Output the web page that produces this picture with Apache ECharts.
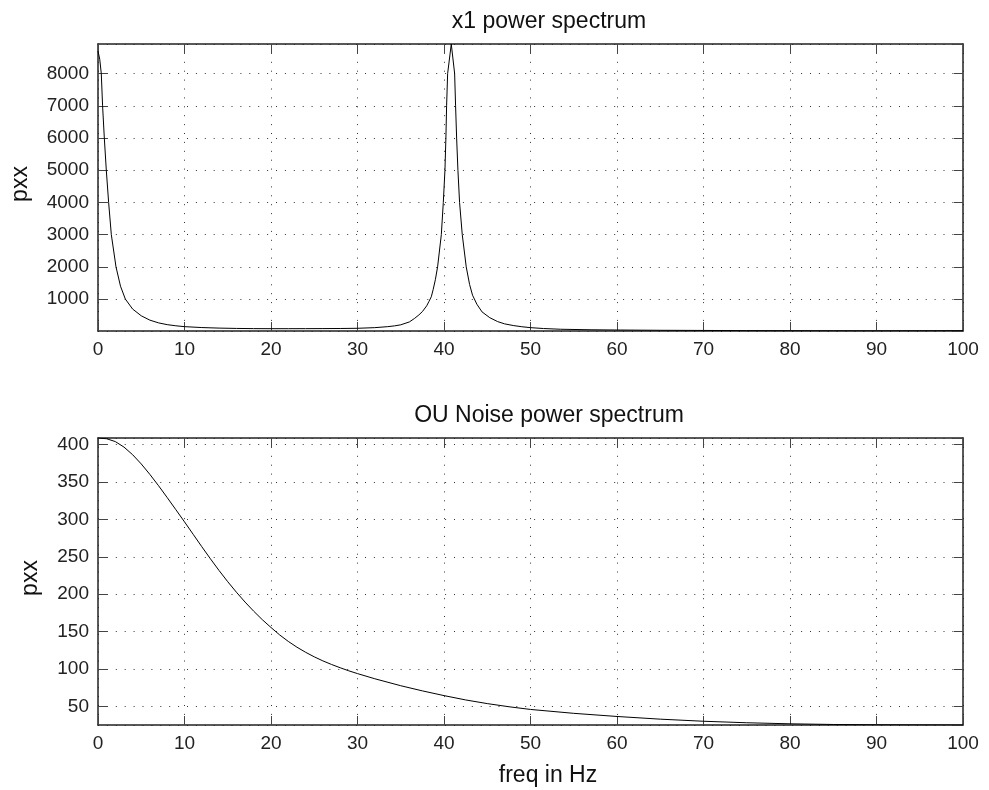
<!DOCTYPE html>
<html>
<head>
<meta charset="utf-8">
<script src="https://cdn.jsdelivr.net/npm/echarts@6/dist/echarts.min.js"></script>
<style>
    html, body { margin: 0; padding: 0; background: #fff; }
    #chart { width: 989px; height: 790px; }
</style>
</head>
<body>
<div id="chart"></div>
<script>
// x1 power spectrum (top panel)
const x1Freq = [0, 0.2, 0.38, 0.53, 0.73, 0.96, 1.23, 1.54, 2.08, 2.6,
    3.16, 4, 5, 6, 7, 8, 9, 10, 12, 14,
    16, 18, 20, 22, 24, 26, 28, 30, 32, 33.5,
    34.3, 35, 36, 36.6, 37.1, 37.5, 38, 38.25, 38.53, 38.75,
    39.0, 39.26, 39.69, 39.92, 40.11, 40.22, 40.30, 40.42, 40.84, 41.23,
    41.34, 41.46, 41.61, 41.80, 42.11, 42.57, 42.96, 43.3, 43.8, 44.4,
    45.3, 46.2, 47, 48, 49, 50, 51.5, 53.5, 57, 60,
    65, 70, 75, 80, 85, 90, 95, 100];
const x1Pxx = [8700, 8450, 8000, 7000, 6000, 5000, 4000, 3000, 2000, 1400,
    1000, 690, 480, 345, 260, 205, 170, 143, 115, 98,
    88, 82, 80, 80, 81, 83, 86, 92, 112, 143,
    168, 200, 290, 400, 508, 610, 790, 920, 1070, 1300,
    1600, 2000, 3000, 4000, 5000, 6000, 7000, 8000, 8920, 8000,
    7000, 6000, 5000, 4000, 3000, 2000, 1450, 1120, 840, 600,
    420, 300, 230, 178, 140, 112, 85, 62, 46, 39,
    30, 25, 20, 17, 15, 14, 16, 20];

// OU noise power spectrum (bottom panel)
const ouFreq = [0, 1, 2, 3, 4, 5, 6, 7, 8, 9,
    10, 11, 12, 13, 14, 15, 16, 17, 18, 19,
    20, 21, 22, 23, 24, 25, 26, 27, 28, 29,
    30, 32, 35, 37.5, 40, 42.5, 45, 47.5, 50, 55,
    60, 65, 70, 75, 80, 85, 90, 95, 100];
const ouPxx = [408.8, 407.8, 404, 396.7, 386.5, 374.1, 360.1, 345, 329.2, 313,
    296.7, 280.1, 263.5, 247.3, 231.6, 216.7, 202.7, 189.5, 177.3, 165.9,
    155.5, 145.6, 136.9, 129.2, 122.4, 116.3, 110.9, 106.1, 101.7, 97.6,
    93.9, 87, 77.7, 70.8, 64.5, 58.7, 53.8, 49.6, 46, 40.8,
    36.6, 33, 30.2, 28.2, 26.8, 25.9, 25.5, 25.3, 25.2];

const titles = ['x1 power spectrum', 'OU Noise power spectrum'];
const yName = 'pxx';
const xName = 'freq in Hz';

const fontFamily = '"Liberation Sans", Arial, Helvetica, sans-serif';
const ink = '#222';

let zip = (xs, ys) => xs.map((x, i) => [x, ys[i]]);

let xAxisOf = (grid, pos, main) => ({
    type: 'value',
    gridIndex: grid,
    position: pos,
    min: 0,
    max: 100,
    interval: 10,
    axisLine: { show: true, onZero: false, lineStyle: { color: ink, width: 1.5 } },
    axisTick: { show: true, inside: true, length: 9, lineStyle: { color: '#444', width: 1 } },
    axisLabel: { show: main, margin: 9, color: ink, fontSize: 19, fontFamily: fontFamily,
        formatter: v => String(v) },
    splitLine: { show: main, lineStyle: { color: '#333', width: 1, type: [1, 7.9] } }
});

let yAxisOf = (grid, pos, main, min, max, split) => ({
    type: 'value',
    gridIndex: grid,
    position: pos,
    min: min,
    max: max,
    splitNumber: split,
    axisLine: { show: true, onZero: false, lineStyle: { color: ink, width: 1.5 } },
    axisTick: { show: true, inside: true, length: 9, lineStyle: { color: '#444', width: 1 } },
    axisLabel: { show: main, margin: 9, color: ink, fontSize: 19, fontFamily: fontFamily,
        showMinLabel: false, showMaxLabel: false, formatter: v => String(v) },
    splitLine: { show: main, lineStyle: { color: '#333', width: 1, type: [1, 7.9] } }
});

let textEl = (txt, x, y, rot) => ({
    type: 'text',
    x: x,
    y: y,
    rotation: rot || 0,
    style: {
        text: txt,
        fill: '#111',
        font: '23px ' + fontFamily,
        textAlign: 'center',
        textVerticalAlign: 'middle'
    }
});

let option = {
    animation: false,
    backgroundColor: '#fff',
    grid: [
        { left: 98, right: 26, top: 44, height: 287, outerBoundsMode: 'none' },
        { left: 98, right: 26, top: 438, height: 287, outerBoundsMode: 'none' }
    ],
    xAxis: [
        xAxisOf(0, 'bottom', true),
        xAxisOf(0, 'top', false),
        xAxisOf(1, 'bottom', true),
        xAxisOf(1, 'top', false)
    ],
    yAxis: [
        yAxisOf(0, 'left', true, 8, 8920, 9),
        yAxisOf(0, 'right', false, 8, 8920, 9),
        yAxisOf(1, 'left', true, 25.2, 408.8, 8),
        yAxisOf(1, 'right', false, 25.2, 408.8, 8)
    ],
    graphic: [
        textEl(titles[0], 549, 22),
        textEl(titles[1], 549, 416),
        textEl(xName, 548, 776),
        textEl(yName, 21, 184, Math.PI / 2),
        textEl(yName, 31, 578, Math.PI / 2)
    ],
    series: [
        {
            type: 'line',
            xAxisIndex: 0,
            yAxisIndex: 0,
            data: zip(x1Freq, x1Pxx),
            showSymbol: false,
            lineStyle: { color: '#000', width: 1 }
        },
        {
            type: 'line',
            xAxisIndex: 2,
            yAxisIndex: 2,
            data: zip(ouFreq, ouPxx),
            showSymbol: false,
            lineStyle: { color: '#000', width: 1 }
        }
    ]
};

let chart = echarts.init(document.getElementById('chart'));
chart.setOption(option);
</script>
</body>
</html>
